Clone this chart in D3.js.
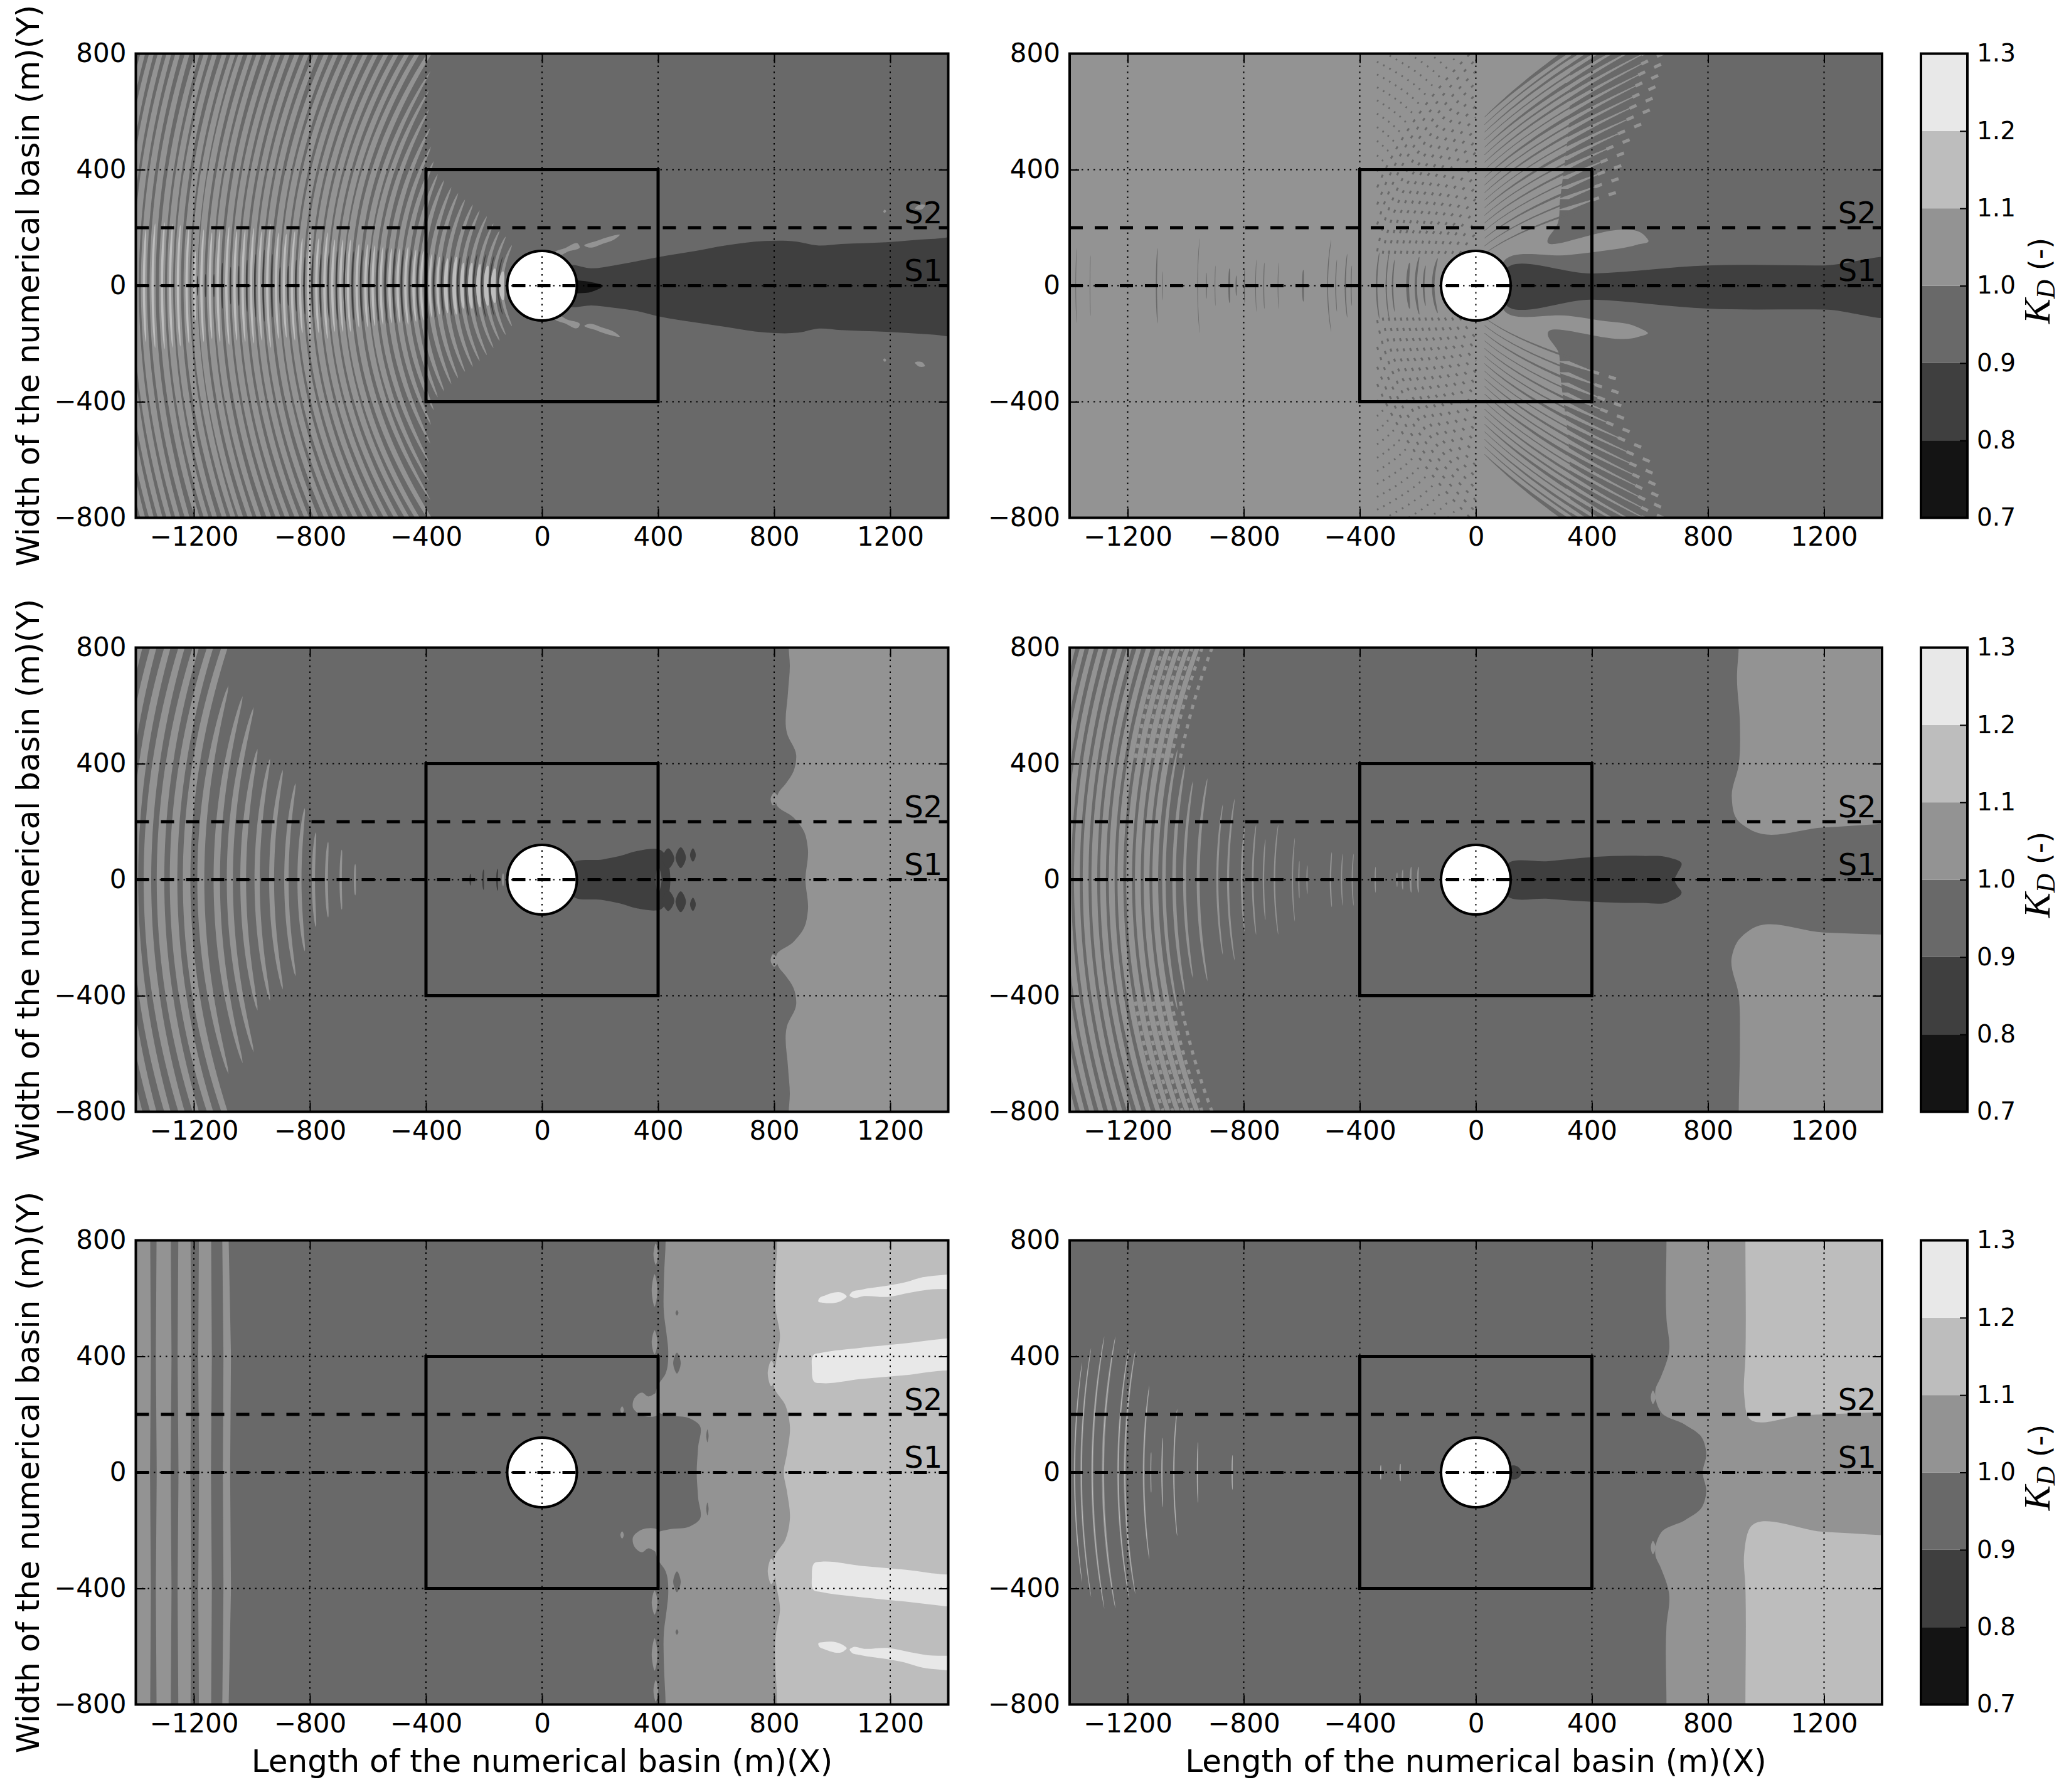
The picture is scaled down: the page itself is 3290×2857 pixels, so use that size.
<!DOCTYPE html>
<html>
<head>
<meta charset="utf-8">
<script src="https://cdn.jsdelivr.net/npm/d3@7"></script>
<style>
	html, body { margin: 0; background: #fff; }
	text { font-family: "DejaVu Sans"; fill: #000; }
</style>
</head>
<body>
<script>
/******************/
/*     data       */
/******************/
var xTicks = [-1200, -800, -400, 0, 400, 800, 1200];
var yTicks = [-800, -400, 0, 400, 800];
var kdTicks = [0.7, 0.8, 0.9, 1.0, 1.1, 1.2, 1.3];
var kdColors = ["#141414", "#3f3f3f", "#696969", "#939393", "#bdbdbd", "#e8e8e8"];
var xLabel = "Length of the numerical basin (m)(X)";
var yLabel = "Width of the numerical basin (m)(Y)";
var boxCorner = [400, 400];
var pileRadius = 120;
var sections = [{name: "S1", y: 0}, {name: "S2", y: 200}];

// panel 1 : crests named by where they cross y = 0 (metres west of the pile), east to west
var p1CrestA = [139,168,193,220,248,276,303,332,360,387,417,443,471,498,526,556,584,609,639,669,695,723,750,778,806,834,862,890,917,947,975,1003,1032,1060,1088,1118,1145,1174,1198,1225,1255,1282,1310,1342,1372,1400,1428,1456,1484,1512,1540];
var p1CrestEnd = [140,170,190,215,240,260,280,298,320,340,365,385,430,480,545,610,675,740];
var p1CrestWidth = [11,12,13,13,14,14,15,15,16,16,17,17,18,18,19,19,20,20];
var p1BrightHalf = [50,60,70,75,80,80,100,95,100,110,120,125,135,130,130,135,140,145,145,160,160,160,185,165,180,165,190,180,185,215,190,200,195,190,205,195,185,195,120,200,210,215,220,215,195];
var p1BrightWidth = [18,17,16,14,14,12,12,12];
var p1TroughA = [152,180,208,236,263,291,319,346,374,402,430,457,485,513,541,569,597,625,654,682,709,738,765,793,820,849,876,904,932,961,990,1018,1046,1074,1103,1131,1160,1187];
var p1TroughHalf = [100,105,110,110,105,100,105,105,110,115,120,125,125,130,130,125,130,125,120,125,120,115,110,110,100,90,70,65,110,125,110,90,70,65,80,40,40,35];
var p1Wake = [[90,70],[171,60],[248,70],[325,84],[403,99],[524,119],[634,139],[767,154],[877,152],[949,139],[1031,144],[1186,150],[1340,161],[1500,165],[1500,-175],[1340,-168],[1186,-159],[1031,-153],[949,-148],[888,-161],[767,-161],[634,-142],[524,-126],[403,-106],[325,-87],[248,-76],[171,-68],[90,-71]];
var p1Core = [[100,20],[127,18],[171,12],[210,0],[171,-21],[127,-26],[100,-26]];
var p1Blobs = [
	[[45,112],[80,130],[125,144],[130,135],[90,118],[50,105]],
	[[147,137],[190,155],[235,170],[268,175],[250,160],[210,145],[160,132]],
	[[1285,265],[1300,279],[1320,277],[1310,264]],
	[[1176,255],[1182,262],[1186,256],[1180,251]]
];

// panel 2 : streaks fanning around the pile
var p2Region = [[1500,900],[330,900],[327,800],[320,548],[290,295],[280,209],[250,165],[586,168],[595,155],[555,141],[430,119],[320,106],[96,84],[96,-84],[320,-104],[430,-120],[555,-142],[593,-164],[555,-178],[250,-176],[285,-230],[290,-295],[320,-548],[327,-800],[330,-900],[1500,-900]];
var p2Wake = [[95,42],[400,42],[800,70],[1200,70],[1500,74],[1500,-86],[1200,-82],[800,-79],[400,-48],[95,-50]];
var p2StreakA = [42,55,68,81,94,107,120,133,146,159,172,185,198,211,224,237,250,263,276];
var p2StreakDark = [7,6,9,5,8,6,11,5,9,6,12,5,9,8,13,6,10,8,17];
var p2StreakEnd = [470,480,490,500,520,560,590,600,610,620,630,640,640,640,640,640,640,640,640];
var p2DottedA = [90,110,130,150,170,190,210,230,250,270,290,310,330,350,370,390,410,430,450,470,490,510,530,550,570,590];
var p2RippleX = [1379,1330,1101,1079,959,929,899,850,826,798,759,731,682,596,511,483,450,430,342,309,287,235,207,180,147];
var p2RippleHalf = [130,105,130,50,165,45,70,60,35,60,90,80,80,55,160,90,110,70,115,125,90,80,100,70,95];
var p2RippleWidth = [2,2,4,2,2,3,2,6,4,3,2,3,2,6,3,3,4,3,5,4,5,10,8,6,9];

// panel 3
var p3Region = [[848,900],[850,800],[854,740],[848,650],[844,506],[876,429],[867,374],[839,330],[815,300],[807,264],[867,214],[904,164],[916,109],[908,0]];
var p3Lobe = [[800,300],[788,280],[795,257],[815,280]];
var p3CrestA = [645,694,743,788,836,881,932,982,1030,1076,1121,1176,1225,1270,1315,1360,1405,1450,1495,1540,1585];
var p3CrestEnd = [54,104,131,164,247,333,379,418,451,595,633,670];
var p3CrestWidth = [7,8,10,11,14,15,17,18,20,21,22,24];
var p3Wake = [[105,56],[210,70],[270,82],[323,98],[405,104],[405,-104],[323,-98],[270,-82],[210,-70],[105,-56]];
var p3WakeGap = [[400,48],[412,0],[400,-48],[392,0]];
var p3WakeLobes = [
	[[435,108],[456,72],[435,38],[414,72]],
	[[478,112],[496,76],[478,40],[460,76]],
	[[520,108],[530,85],[520,62],[510,85]]
];
var p3TroughA = [155,203,247];
var p3TroughHalf = [38,35,20];

// panel 4
var p4RegionTop = [[906,900],[906,800],[900,705],[910,540],[906,396],[882,286],[900,208],[947,172],[1200,180],[1398,192],[1500,195],[1500,900]];
var p4RegionBottom = [[906,-900],[906,-795],[910,-564],[906,-398],[882,-266],[900,-216],[947,-172],[1200,-182],[1398,-189],[1500,-192],[1500,-900]];
var p4Wake = [[105,50],[250,64],[403,78],[572,82],[666,76],[709,56],[694,21],[685,0],[694,-21],[709,-43],[666,-76],[572,-80],[403,-76],[250,-66],[105,-52]];
var p4CrestA = [200,225,253,272,347,426,463,501,582,610,632,694,732,769,807,854,891,957,1004,1040,1075,1105,1135,1165,1195,1225,1255,1285,1315,1345,1375,1405,1435,1465,1495,1525,1555];
var p4CrestEnd = [45,45,35,25,45,90,90,95,50,65,145,190,140,190,180,280,260,350,340,400,450];
var p4CrestWidth = [6,6,5,4,4,4,4,5,4,4,4,5,5,6,6,7,7,10,10,12,12];
var p4SpeckleA = [1060,1090,1120,1150,1180,1210];
var p4DarkA = [1300,1330,1360,1390,1420,1450,1480,1510,1540];

// panel 5
var p5Level10 = [[426,900],[426,800],[420,660],[420,550],[430,470],[435,418],[426,341],[398,297],[398,208],[435,197],[510,186],[542,164],[538,87],[533,0]];
var p5Level11 = [[810,900],[810,800],[807,550],[820,473],[807,385],[801,291],[839,231],[854,164],[844,65],[833,0]];
var p5Stripes = [
	[[-1405,900],[-1405,-900],[-1351,-900],[-1348,-400],[-1351,0],[-1348,400],[-1351,900]],
	[[-1328,900],[-1331,400],[-1328,0],[-1331,-400],[-1328,-900],[-1280,-900],[-1277,-400],[-1280,0],[-1277,400],[-1280,900]],
	[[-1253,900],[-1256,400],[-1253,0],[-1256,-400],[-1253,-900],[-1212,-900],[-1209,-400],[-1212,0],[-1209,400],[-1212,900]],
	[[-1182,900],[-1185,400],[-1182,0],[-1185,-400],[-1182,-900],[-1141,-900],[-1138,-400],[-1141,0],[-1138,400],[-1141,900]],
	[[-1103,900],[-1098,400],[-1100,0],[-1098,-400],[-1103,-900],[-1082,-900],[-1072,-400],[-1075,0],[-1072,400],[-1082,900]]
];
var p5Patches = [
	[[392,790],[400,750],[392,716],[384,750]],
	[[388,683],[398,628],[388,572],[378,628]],
	[[388,490],[398,448],[388,407],[378,448]],
	[[345,275],[365,262],[398,275],[398,197],[345,197],[313,225],[318,255]],
	[[276,228],[282,215],[276,203],[270,215]]
];
var p5Pockets = [
	[[465,413],[478,377],[465,341],[452,377]],
	[[465,559],[470,550],[465,541],[460,550]],
	[[570,148],[574,126],[570,104],[566,126]]
];
var p5Lobes = [[[790,385],[778,340],[790,297],[807,340]]];
var p5Bright = [
	[[938,407],[960,412],[1100,430],[1250,445],[1398,462],[1500,470],[1500,350],[1398,352],[1250,335],[1100,322],[960,308],[942,310],[930,360]],
	[[955,600],[975,610],[1040,616],[1050,606],[1040,597],[970,585],[952,590]],
	[[1066,620],[1100,630],[1180,642],[1250,655],[1300,670],[1398,682],[1500,690],[1500,630],[1398,632],[1330,630],[1270,620],[1190,605],[1110,608],[1070,603],[1060,610]]
];

// panel 6
var p6Level10 = [[657,900],[657,800],[657,528],[666,418],[638,330],[619,286],[638,208],[722,164],[779,120],[794,65],[782,0]];
var p6Lobe = [[610,282],[603,258],[610,236],[620,258]];
var p6TopBand = [[929,900],[929,800],[929,396],[925,264],[938,192],[1135,198],[1398,208],[1500,212],[1500,900]];
var p6BottomBand = [[929,-900],[929,-800],[929,-396],[925,-277],[943,-194],[1200,-205],[1398,-216],[1500,-220],[1500,-900]];
var p6Stub = [[118,22],[135,24],[155,8],[155,-8],[135,-24],[118,-22]];
var p6CrestA = [261,328,840,960,1041,1082,1120,1145,1210,1233,1285,1322,1360,1383];
var p6CrestEnd = [30,25,60,105,220,120,70,300,420,440,470,470,430,380];
var p6CrestWidth = [5,4,4,4,5,5,3,6,7,6,8,7,6,5];

/******************/
/*    layout      */
/******************/
var colLeft = [216.5, 1705];
var rowTop = [85.5, 1032.5, 1977.5];
var plotW = 1295, plotH = 740;
var barLeft = 3062, barW = 74;
var x = d3.scaleLinear().domain([-1400, 1400]).range([0, plotW]);
var y = d3.scaleLinear().domain([-800, 800]).range([plotH, 0]);
var kd = d3.scaleLinear().domain([0.7, 1.3]).range([plotH, 0]);

var svg = d3.select("body").append("svg").attr("width", 3290).attr("height", 2857);
var polyLine = d3.line().x(function(d) { return x(d[0]); }).y(function(d) { return y(d[1]); }).curve(d3.curveCatmullRomClosed.alpha(1));
var straightLine = d3.line().x(function(d) { return x(d[0]); }).y(function(d) { return y(d[1]); }).curve(d3.curveLinearClosed);
var lens = d3.area().y(function(d) { return y(d.y); }).x0(function(d) { return x(d.x - d.h); }).x1(function(d) { return x(d.x + d.h); });
var thread = d3.line().x(function(d) { return x(d.x); }).y(function(d) { return y(d.y); });

/******************/
/*    helpers     */
/******************/
// wave crests around the pile bend as parabolas with the pile at the focus
function crestX(a, yy) { return -a + yy * yy / (4 * a); }
function crestY(a, xx) { return 2 * Math.sqrt(Math.max(0, a * (xx + a))); }
function flip(p) { return p.map(function(d) { return [d[0], -d[1]]; }); }
// upper half of a contour, closed through its mirror and out past the east edge
function eastRegion(p) { return p.concat(flip(p).reverse().slice(1)).concat([[1500, -900], [1500, 900]]); }

function poly(g, p, c) { g.append("path").attr("d", polyLine(p)).attr("fill", c); }
function polys(g, list, c) { list.forEach(function(p) { poly(g, p, c); poly(g, flip(p), c); }); }

function crest(g, a, end, w, c) {
	var pts = d3.range(61).map(function(i) {
		var yy = -end + 2 * end * i / 60, t = Math.abs(yy / end);
		return {x: crestX(a, yy), y: yy, h: w / 2 * Math.sqrt(Math.max(0, 1 - t * t * t))};
	});
	g.append("path").attr("d", lens(pts)).attr("fill", c);
}
function crests(g, list, ends, widths, c, endDef, wDef) {
	list.forEach(function(a, i) {
		crest(g, a, ends[i] === undefined ? endDef : ends[i], widths[i] === undefined ? wDef : widths[i], c);
	});
}
// piece of a crest between two x positions, both sides of the axis,
// w0 and w1 measured across the crest, not along x
function piece(g, a, x0, x1, w0, w1, c) {
	[1, -1].forEach(function(s) {
		var y0 = crestY(a, x0), y1 = crestY(a, x1);
		var pts = d3.range(41).map(function(i) {
			var t = i / 40, yy = y0 + (y1 - y0) * t, slope = yy / (2 * a);
			return {x: crestX(a, yy), y: s * yy, h: (w0 + (w1 - w0) * t) / 2 * Math.sqrt(1 + slope * slope)};
		});
		g.append("path").attr("d", lens(pts)).attr("fill", c);
	});
}
function dotted(g, a, y0, y1, w, dash, c) {
	[1, -1].forEach(function(s) {
		var pts = d3.range(41).map(function(i) {
			var yy = y0 + (y1 - y0) * i / 40;
			return {x: crestX(a, yy), y: s * yy};
		});
		g.append("path").attr("d", thread(pts)).attr("fill", "none").attr("stroke", c)
			.attr("stroke-width", w).attr("stroke-dasharray", dash);
	});
}

/*************************/
/*   panel fill drawing  */
/*************************/
function fillP1(g) {
	crests(g, p1CrestA, p1CrestEnd, p1CrestWidth, kdColors[3], 1100, 21);
	polys(g, p1Blobs, kdColors[3]);
	crests(g, p1TroughA, p1TroughHalf, [], kdColors[1], 0, 5);
	crests(g, p1CrestA.slice(0, p1BrightHalf.length), p1BrightHalf, p1BrightWidth, kdColors[4], 0, 8);
	poly(g, p1Wake, kdColors[1]);
	poly(g, p1Core, kdColors[0]);
}
function fillP2(g) {
	poly(g, p2Region, kdColors[2]);
	p2DottedA.forEach(function(a) {
		var near = a < 430;
		dotted(g, a, Math.max(110, crestY(a, -340)), Math.min(820, crestY(a, 0)), near ? 3 : 2.5, near ? "5 12" : "3 15", kdColors[2]);
	});
	p2StreakA.forEach(function(a, i) {
		// dark fingers reach in from the west, light ones sit half a step further out
		var b = a + 6.5;
		piece(g, a, 30, 335, 1.5, p2StreakDark[i], kdColors[2]);
		piece(g, b, 300, p2StreakEnd[i] - 60, 15, 3, kdColors[3]);
		dotted(g, b, crestY(b, p2StreakEnd[i] - 70), crestY(b, p2StreakEnd[i] + 15), 5, "12 16", kdColors[3]);
	});
	p2RippleX.forEach(function(a, i) { crest(g, a, p2RippleHalf[i], p2RippleWidth[i], kdColors[2]); });
	poly(g, p2Wake, kdColors[1]);
}
function fillP3(g) {
	poly(g, eastRegion(p3Region), kdColors[3]);
	polys(g, [p3Lobe], kdColors[3]);
	crests(g, p3CrestA, p3CrestEnd, p3CrestWidth, kdColors[3], 1200, 26);
	poly(g, p3Wake, kdColors[1]);
	poly(g, p3WakeGap, kdColors[2]);
	polys(g, p3WakeLobes, kdColors[1]);
	crests(g, p3TroughA, p3TroughHalf, [], kdColors[1], 0, 6);
	crest(g, 135, 22, 6, kdColors[3]);
}
function fillP4(g) {
	poly(g, p4RegionTop, kdColors[3]);
	poly(g, p4RegionBottom, kdColors[3]);
	poly(g, p4Wake, kdColors[1]);
	crests(g, p4CrestA, p4CrestEnd, p4CrestWidth, kdColors[3], 1200, 20);
	p4SpeckleA.forEach(function(a) { dotted(g, a, 420, 820, 5, "7 9", kdColors[3]); });
	p4DarkA.forEach(function(a) { dotted(g, a, 40, 820, 3, "26 12", kdColors[2]); });
}
function fillP5(g) {
	p5Stripes.forEach(function(p) {
		g.append("path").attr("d", straightLine(p)).attr("fill", kdColors[3]);
	});
	poly(g, eastRegion(p5Level10), kdColors[3]);
	polys(g, p5Patches, kdColors[3]);
	polys(g, p5Pockets, kdColors[2]);
	poly(g, eastRegion(p5Level11), kdColors[4]);
	polys(g, p5Lobes, kdColors[4]);
	polys(g, p5Bright, kdColors[5]);
}
function fillP6(g) {
	poly(g, eastRegion(p6Level10), kdColors[3]);
	polys(g, [p6Lobe], kdColors[3]);
	poly(g, p6TopBand, kdColors[4]);
	poly(g, p6BottomBand, kdColors[4]);
	poly(g, p6Stub, kdColors[1]);
	crests(g, p6CrestA, p6CrestEnd, p6CrestWidth, kdColors[3], 0, 4);
	crests(g, p6CrestA, p6CrestEnd, [], kdColors[4], 0, 2);
}

/*****************************/
/*   one panel, frame + axes */
/*****************************/
function drawPanel(col, row, background, fill) {
	var id = "clip" + col + row;
	var g = svg.append("g").attr("transform", "translate(" + colLeft[col] + "," + rowTop[row] + ")");
	g.append("clipPath").attr("id", id).append("rect").attr("width", plotW).attr("height", plotH);
	var body = g.append("g").attr("clip-path", "url(#" + id + ")");
	body.append("rect").attr("width", plotW).attr("height", plotH).attr("fill", background);
	fill(body);

	// the pile
	body.append("circle").attr("cx", x(0)).attr("cy", y(0)).attr("r", x(pileRadius) - x(0))
		.attr("fill", "#fff").attr("stroke", "#000").attr("stroke-width", 4);

	// dotted grid
	xTicks.forEach(function(t) {
		body.append("line").attr("x1", x(t)).attr("x2", x(t)).attr("y1", 0).attr("y2", plotH)
			.attr("stroke", "#000").attr("stroke-width", 2).attr("stroke-dasharray", "2.5 7");
	});
	yTicks.forEach(function(t) {
		body.append("line").attr("x1", 0).attr("x2", plotW).attr("y1", y(t)).attr("y2", y(t))
			.attr("stroke", "#000").attr("stroke-width", 2).attr("stroke-dasharray", "2.5 7");
	});

	// control box
	body.append("rect").attr("x", x(-boxCorner[0])).attr("y", y(boxCorner[1]))
		.attr("width", x(boxCorner[0]) - x(-boxCorner[0])).attr("height", y(-boxCorner[1]) - y(boxCorner[1]))
		.attr("fill", "none").attr("stroke", "#000").attr("stroke-width", 5);

	// sections S1, S2
	sections.forEach(function(s) {
		body.append("line").attr("x1", 0).attr("x2", plotW).attr("y1", y(s.y)).attr("y2", y(s.y))
			.attr("stroke", "#000").attr("stroke-width", 5).attr("stroke-dasharray", "21 19");
		g.append("text").attr("x", x(1380)).attr("y", y(s.y + 16)).attr("text-anchor", "end")
			.attr("font-size", 48).text(s.name);
	});

	// axes, ticks pointing inwards
	var fmt = d3.format("d");
	g.append("g").attr("transform", "translate(0," + plotH + ")")
		.call(d3.axisBottom(x).tickValues(xTicks).tickSize(-15).tickPadding(15).tickFormat(fmt)).call(styleAxis, 42);
	g.append("g").call(d3.axisLeft(y).tickValues(yTicks).tickSize(-15).tickPadding(15).tickFormat(fmt)).call(styleAxis, 42);
	g.append("g").call(d3.axisTop(x).tickValues(xTicks).tickSize(-15).tickFormat("")).call(styleAxis, 42);
	g.append("g").attr("transform", "translate(" + plotW + ",0)")
		.call(d3.axisRight(y).tickValues(yTicks).tickSize(-15).tickFormat("")).call(styleAxis, 42);
	g.append("rect").attr("width", plotW).attr("height", plotH).attr("fill", "none")
		.attr("stroke", "#000").attr("stroke-width", 4);

	if (col === 0) {
		g.append("text").attr("transform", "translate(-155," + (plotH / 2) + ") rotate(-90)")
			.attr("text-anchor", "middle").attr("font-size", 50).text(yLabel);
	}
	if (row === 2) {
		g.append("text").attr("x", plotW / 2).attr("y", plotH + 107).attr("text-anchor", "middle")
			.attr("font-size", 50).text(xLabel);
	}
}

function styleAxis(sel, size) {
	sel.select(".domain").remove();
	sel.attr("font-family", null).attr("font-size", null);
	sel.selectAll("text").attr("font-size", size);
	sel.selectAll("line").attr("stroke", "#000").attr("stroke-width", 2);
}

function drawBar(row) {
	var g = svg.append("g").attr("transform", "translate(" + barLeft + "," + rowTop[row] + ")");
	kdColors.forEach(function(c, i) {
		g.append("rect").attr("y", kd(kdTicks[i + 1])).attr("width", barW)
			.attr("height", kd(kdTicks[i]) - kd(kdTicks[i + 1])).attr("fill", c);
	});
	g.append("g").attr("transform", "translate(" + barW + ",0)")
		.call(d3.axisRight(kd).tickValues(kdTicks).tickSize(-12).tickPadding(15).tickFormat(d3.format(".1f")))
		.call(styleAxis, 39);
	g.append("rect").attr("width", barW).attr("height", plotH).attr("fill", "none")
		.attr("stroke", "#000").attr("stroke-width", 4);
	var label = g.append("text").attr("transform", "translate(205," + (plotH / 2 - 8) + ") rotate(-90)")
		.attr("text-anchor", "middle").attr("font-size", 46);
	label.append("tspan").attr("font-family", "Liberation Serif").attr("font-style", "italic").attr("font-size", 60).text("K");
	label.append("tspan").attr("font-family", "Liberation Serif").attr("font-style", "italic").attr("font-size", 42).attr("dy", 8).text("D");
	label.append("tspan").attr("dy", -8).text(" (-)");
}

/******************/
/*     draw       */
/******************/
drawPanel(0, 0, kdColors[2], fillP1);
drawPanel(1, 0, kdColors[3], fillP2);
drawPanel(0, 1, kdColors[2], fillP3);
drawPanel(1, 1, kdColors[2], fillP4);
drawPanel(0, 2, kdColors[2], fillP5);
drawPanel(1, 2, kdColors[2], fillP6);
[0, 1, 2].forEach(drawBar);
</script>
</body>
</html>
